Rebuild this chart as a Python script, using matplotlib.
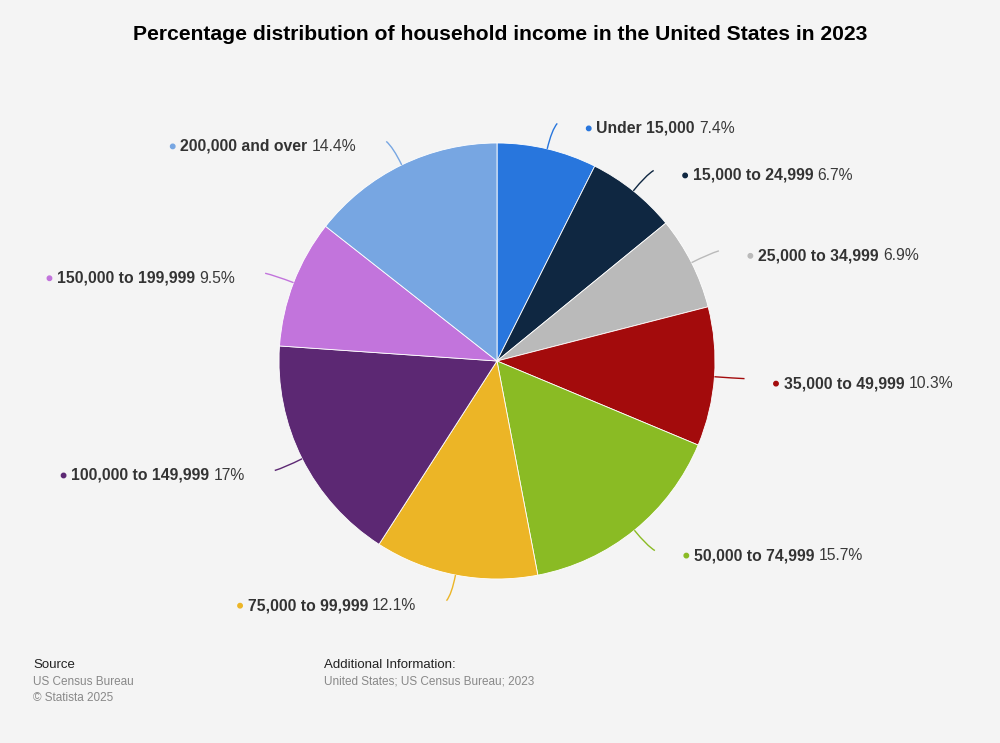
import numpy as np
import matplotlib.pyplot as plt
from matplotlib.path import Path
from matplotlib.patches import PathPatch, Circle
from matplotlib.offsetbox import TextArea, HPacker, AnnotationBbox, DrawingArea

plt.rcParams['font.family'] = ['Liberation Sans', 'DejaVu Sans']

# data
categories = ['Under 15,000', '15,000 to 24,999', '25,000 to 34,999', '35,000 to 49,999',
              '50,000 to 74,999', '75,000 to 99,999', '100,000 to 149,999',
              '150,000 to 199,999', '200,000 and over']
shares = [7.4, 6.7, 6.9, 10.3, 15.7, 12.1, 17, 9.5, 14.4]
value_labels = ['7.4%', '6.7%', '6.9%', '10.3%', '15.7%', '12.1%', '17%', '9.5%', '14.4%']
colors = ['#2876dd', '#0f2741', '#bababa', '#a30b0c', '#8abb24',
          '#ecb526', '#5c2873', '#c274dc', '#77a6e2']

W, H = 1000, 743
bg = '#f4f4f4'
fig = plt.figure(figsize=(W / 100, H / 100), dpi=100, facecolor=bg)
ax = fig.add_axes([0, 0, 1, 1])
ax.set_facecolor(bg)

cx, cy, r = 497, H - 361, 218
wedges, _ = ax.pie(shares, colors=colors, startangle=90, counterclock=False,
                   center=(cx, cy), radius=r,
                   wedgeprops=dict(edgecolor='white', linewidth=0.6))
ax.set_xlim(0, W)
ax.set_ylim(0, H)
ax.set_aspect('equal')
ax.axis('off')

for w, name, val, col in zip(wedges, categories, value_labels, colors):
    mid = np.deg2rad((w.theta1 + w.theta2) / 2)
    ca, sa = np.cos(mid), np.sin(mid)
    p0 = (cx + r * ca, cy + r * sa)
    p1 = (cx + r * 1.09 * ca, cy + r * 1.09 * sa)
    right = ca >= 0
    sgn = 1 if right else -1
    p2 = (cx + r * 1.12 * ca + sgn * 4, cy + r * 1.12 * sa)
    path = Path([p0, p1, p2], [Path.MOVETO, Path.CURVE3, Path.CURVE3])
    ax.add_patch(PathPatch(path, fill=False, edgecolor=col, lw=1.0))

    dot = DrawingArea(5, 5, 0, 0)
    dot.add_artist(Circle((2.5, 2.5), 1.6, color=col))
    t1 = TextArea(name, textprops=dict(color='#333333', fontsize=11.3, fontweight='bold'))
    t2 = TextArea(val, textprops=dict(color='#3a3a3a', fontsize=11.3))
    box = HPacker(children=[dot, t1, t2], align='center', pad=0, sep=3)
    lx = p2[0] + (28 if right else -30)
    ab = AnnotationBbox(box, (lx, p2[1] - 5), xycoords='data', frameon=False,
                        box_alignment=(0 if right else 1, 0.5), pad=0)
    ax.add_artist(ab)

fig.text(0.5, 1 - 34 / H, 'Percentage distribution of household income in the United States in 2023',
         ha='center', va='center', fontsize=15.2, fontweight='bold', color='#000000')

fig.text(33 / W, 1 - 665 / H, 'Source', ha='left', va='center', fontsize=9.5, color='#222222')
fig.text(33 / W, 1 - 682 / H, 'US Census Bureau', ha='left', va='center', fontsize=8.5, color='#888888')
fig.text(33 / W, 1 - 698 / H, '\u00a9 Statista 2025', ha='left', va='center', fontsize=8.5, color='#888888')
fig.text(324 / W, 1 - 665 / H, 'Additional Information:', ha='left', va='center', fontsize=9.5, color='#222222')
fig.text(324 / W, 1 - 682 / H, 'United States; US Census Bureau; 2023', ha='left', va='center',
         fontsize=8.5, color='#888888')

fig.savefig('out.png', dpi=100, facecolor=bg)
